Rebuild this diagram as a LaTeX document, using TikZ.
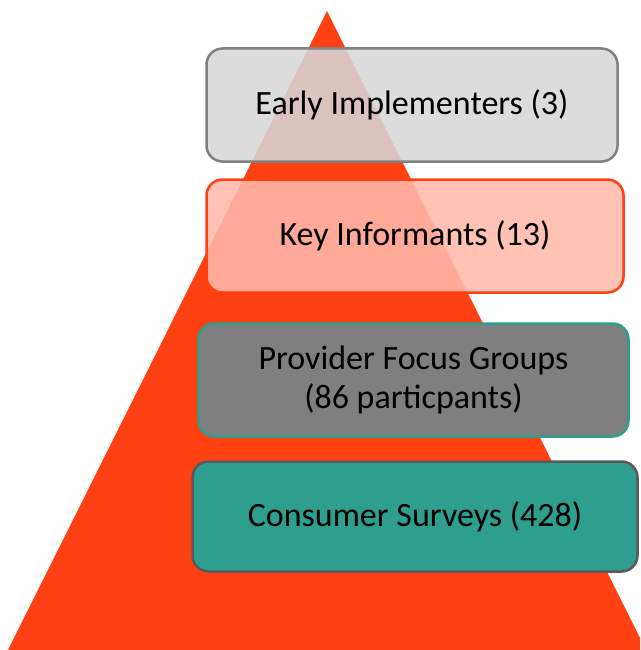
\documentclass[tikz,border=0pt]{standalone}
\usepackage{fontspec}
\setmainfont{Carlito}
\definecolor{pyramid}{HTML}{FF4013}
\definecolor{boxgray}{HTML}{D7D7D7}
\definecolor{edgegray}{HTML}{808080}
\definecolor{salmon}{HTML}{FFB9AB}
\definecolor{midgray}{HTML}{7F7F7F}
\definecolor{teal}{HTML}{2E9E8E}
\definecolor{darkedge}{HTML}{595959}
\tikzset{
  tier/.style={rounded corners=16pt, line width=2.5pt, inner sep=0pt,
    align=center, font=\fontsize{34}{39}\selectfont, text=black},
}
\begin{document}
\begin{tikzpicture}[x=1pt,y=-1pt]
  \useasboundingbox (0,0) rectangle (640,650);
  \clip (0,0) rectangle (640,650);
  % pyramid behind the tiers
  \fill[pyramid] (327,11) -- (8,650) -- (646,650) -- cycle;
  % tiers, top to bottom
  \node[tier, draw=edgegray, fill=boxgray, fill opacity=0.88, text opacity=1,
        minimum width=411pt, minimum height=113pt] (early) at (412,105)
        {Early Implementers (3)};
  \node[tier, draw=pyramid, fill=salmon, fill opacity=0.88, text opacity=1,
        minimum width=417pt, minimum height=113pt] (key) at (415,236)
        {Key Informants (13)};
  \node[tier, draw=teal, fill=midgray,
        minimum width=430pt, minimum height=113pt] (provider) at (413.5,380)
        {Provider Focus Groups\\(86 particpants)};
  \node[tier, draw=darkedge, fill=teal,
        minimum width=445pt, minimum height=110pt] (consumer) at (415,516.5)
        {Consumer Surveys (428)};
\end{tikzpicture}
\end{document}
